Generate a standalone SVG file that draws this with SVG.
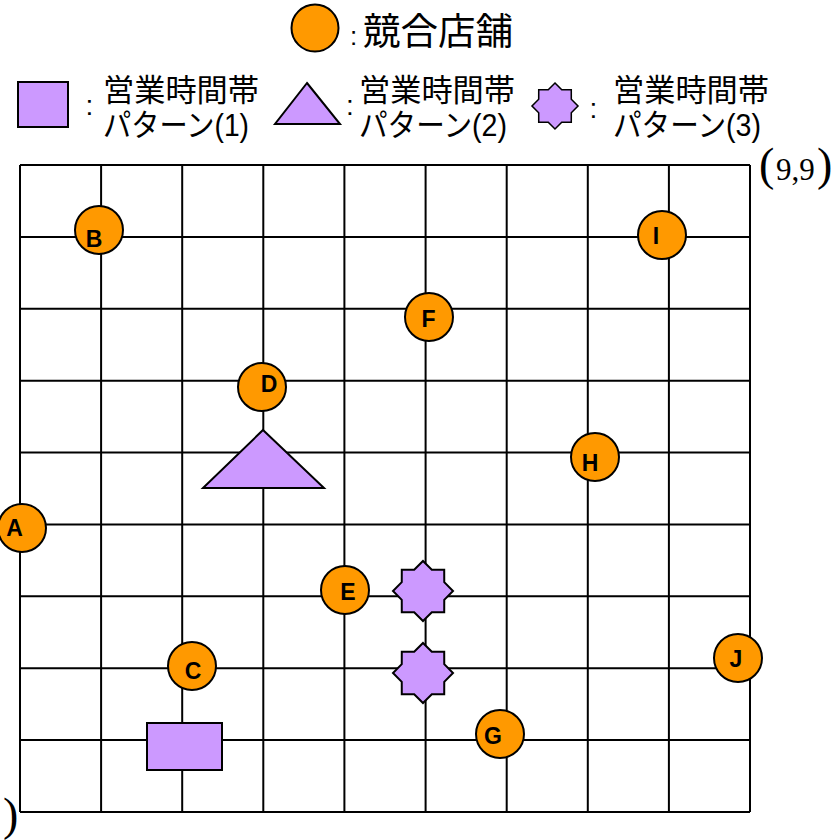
<svg xmlns="http://www.w3.org/2000/svg" width="835" height="840" viewBox="0 0 835 840">
<style>
.grid{fill:none;stroke:#000;stroke-width:2}
.store{fill:#FF9900;stroke:#000;stroke-width:2}
.pat{fill:#CC99FF;stroke:#000;stroke-width:2;stroke-linejoin:miter}
.lbl{font-family:"Liberation Sans",Arial,sans-serif;font-size:23px;font-weight:bold;fill:#000;text-anchor:middle}
.jp{font-family:"Liberation Sans","Noto Sans CJK JP",sans-serif;fill:#000}
.col{font-family:"Liberation Sans",Arial,sans-serif;fill:#000}
.coord{font-family:"Liberation Serif","Times New Roman",serif;fill:#000}
</style>
<defs>
<path id="star" d="M0,-30 L8.8,-21.25 21.21,-21.21 21.25,-8.8 30,0 21.25,8.8 21.21,21.21 8.8,21.25 0,30 -8.8,21.25 -21.21,21.21 -21.25,8.8 -30,0 -21.25,-8.8 -21.21,-21.21 -8.8,-21.25 Z"/>
</defs>
<rect width="835" height="840" fill="#fff"/>

<g id="grid">
<path class="grid" d="M20,165 V812 M101.1,165 V812 M182.2,165 V812 M263.3,165 V812 M344.4,165 V812 M425.6,165 V812 M506.7,165 V812 M587.8,165 V812 M668.9,165 V812 M750,165 V812"/>
<path class="grid" d="M20,165 H750 M20,236.9 H750 M20,308.8 H750 M20,380.7 H750 M20,452.6 H750 M20,524.4 H750 M20,596.3 H750 M20,668.2 H750 M20,740.1 H750 M20,812 H750"/>
</g>

<g id="coord-9-9"><text class="coord" y="180"><tspan x="759" font-size="46">(</tspan><tspan x="776" font-size="31">9,9</tspan><tspan x="817" font-size="46">)</tspan></text></g>
<g id="coord-0-0"><text class="coord" y="830"><tspan x="-56" font-size="46">(</tspan><tspan x="-41" font-size="31">0,0</tspan><tspan x="3" font-size="46">)</tspan></text></g>

<g id="pattern1">
<rect class="pat" x="147" y="723" width="75" height="47"/>
</g>
<g id="pattern2">
<polygon class="pat" points="263,430 324,488 203,488"/>
</g>
<g id="pattern3-a"><use href="#star" class="pat" transform="translate(423,591)"/></g>
<g id="pattern3-b"><use href="#star" class="pat" transform="translate(423,673)"/></g>

<g id="store-A"><circle class="store" cx="22" cy="528" r="24"/><text class="lbl" x="14.5" y="536">A</text></g>
<g id="store-B"><circle class="store" cx="99" cy="230" r="24"/><text class="lbl" x="94" y="247">B</text></g>
<g id="store-C"><circle class="store" cx="192" cy="666" r="24"/><text class="lbl" x="193" y="679">C</text></g>
<g id="store-D"><circle class="store" cx="262" cy="387" r="24"/><text class="lbl" x="269" y="392">D</text></g>
<g id="store-E"><circle class="store" cx="345" cy="590" r="24"/><text class="lbl" x="348" y="600">E</text></g>
<g id="store-F"><circle class="store" cx="429" cy="317" r="24"/><text class="lbl" x="428.5" y="327">F</text></g>
<g id="store-G"><circle class="store" cx="500" cy="734" r="24"/><text class="lbl" x="493" y="744">G</text></g>
<g id="store-H"><circle class="store" cx="595" cy="457" r="24"/><text class="lbl" x="590" y="471">H</text></g>
<g id="store-I"><circle class="store" cx="662" cy="235" r="24"/><text class="lbl" x="656" y="244">I</text></g>
<g id="store-J"><circle class="store" cx="738" cy="658" r="24"/><text class="lbl" x="736" y="667">J</text></g>

<g id="legend-store">
<circle class="store" cx="315" cy="28" r="23.5"/>
<text class="col" x="350" y="45" font-size="26">:</text>
<text class="jp" x="363" y="45" font-size="37" textLength="150" lengthAdjust="spacingAndGlyphs">競合店舗</text>
</g>
<g id="legend-pattern1">
<rect class="pat" x="18" y="82" width="50" height="45"/>
<text class="col" x="85.5" y="114.5" font-size="28">:</text>
<text class="jp" x="103" y="101" font-size="31" textLength="156" lengthAdjust="spacingAndGlyphs">営業時間帯</text>
<text class="jp" x="103" y="136" font-size="31" textLength="146" lengthAdjust="spacingAndGlyphs">パターン(1)</text>
</g>
<g id="legend-pattern2">
<polygon class="pat" points="307,83 340,124 275,124"/>
<text class="col" x="346" y="114.5" font-size="28">:</text>
<text class="jp" x="359" y="101" font-size="31" textLength="156" lengthAdjust="spacingAndGlyphs">営業時間帯</text>
<text class="jp" x="359" y="136" font-size="31" textLength="148" lengthAdjust="spacingAndGlyphs">パターン(2)</text>
</g>
<g id="legend-pattern3">
<path class="pat" d="M0,-30 L8.8,-21.25 21.21,-21.21 21.25,-8.8 30,0 21.25,8.8 21.21,21.21 8.8,21.25 0,30 -8.8,21.25 -21.21,21.21 -21.25,8.8 -30,0 -21.25,-8.8 -21.21,-21.21 -8.8,-21.25 Z" transform="translate(555,106) scale(0.767)" stroke-width="2.6"/>
<text class="col" x="589.5" y="117.5" font-size="28">:</text>
<text class="jp" x="613" y="101" font-size="31" textLength="156" lengthAdjust="spacingAndGlyphs">営業時間帯</text>
<text class="jp" x="613" y="136" font-size="31" textLength="148" lengthAdjust="spacingAndGlyphs">パターン(3)</text>
</g>
</svg>
